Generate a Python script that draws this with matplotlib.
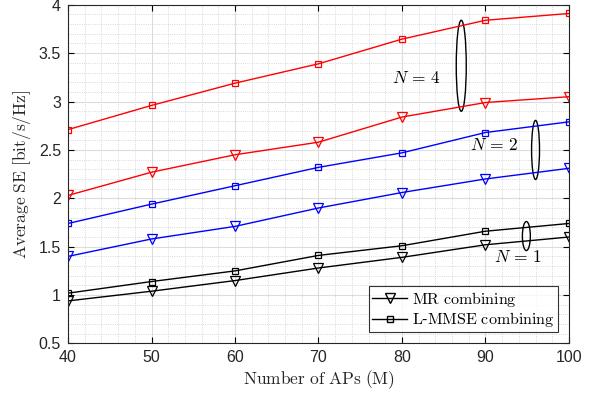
import numpy as np
import matplotlib
matplotlib.use("Agg")
import matplotlib.pyplot as plt
from matplotlib.patches import Ellipse
from matplotlib.ticker import MultipleLocator

plt.rcParams['mathtext.fontset'] = 'cm'
plt.rcParams['font.family'] = 'Liberation Sans'

# Data
aps = [40, 50, 60, 70, 80, 90, 100]
mr_n1 = [0.94, 1.04, 1.15, 1.28, 1.39, 1.52, 1.60]
lmmse_n1 = [1.02, 1.14, 1.25, 1.41, 1.51, 1.66, 1.74]
mr_n2 = [1.40, 1.58, 1.71, 1.90, 2.06, 2.20, 2.31]
lmmse_n2 = [1.74, 1.94, 2.13, 2.32, 2.47, 2.68, 2.79]
mr_n4 = [2.03, 2.27, 2.45, 2.58, 2.84, 2.99, 3.05]
lmmse_n4 = [2.71, 2.96, 3.19, 3.39, 3.645, 3.84, 3.91]

fig = plt.figure(figsize=(5.97, 3.98), dpi=100)
ax = fig.add_axes([0.114, 0.137, 0.839, 0.851])

# curves
for mr, lm, c in [(mr_n4, lmmse_n4, 'red'), (mr_n2, lmmse_n2, 'blue'), (mr_n1, lmmse_n1, 'black')]:
    ax.plot(aps, lm, color=c, lw=1, marker='s', ms=5, mfc='none', mew=0.9)
    ax.plot(aps, mr, color=c, lw=1, marker='v', ms=7.5, mfc='none', mew=0.9)

# legend proxies
ax.plot([], [], color='black', lw=1, marker='v', ms=7.5, mfc='none', label=r'$\mathrm{MR\ combining}$')
ax.plot([], [], color='black', lw=1, marker='s', ms=5, mfc='none', label=r'$\mathrm{L}$-$\mathrm{MMSE\ combining}$')
leg = ax.legend(loc='lower right', fontsize=11.5, frameon=True, fancybox=False,
                edgecolor='black', handlelength=2.2, borderpad=0.2, labelspacing=0.1,
                handletextpad=0.3, borderaxespad=0.7)
leg.get_frame().set_linewidth(0.8)

# ellipses and N labels
ax.add_patch(Ellipse((87.1, 3.37), 1.2, 0.94, fill=False, color='black', lw=1))
ax.add_patch(Ellipse((96.0, 2.50), 0.95, 0.61, fill=False, color='black', lw=1))
ax.add_patch(Ellipse((94.9, 1.61), 0.95, 0.30, fill=False, color='black', lw=1))
ax.text(81.7, 3.245, r'$N\,=\,4$', fontsize=12.5, ha='center', va='center')
ax.text(91.1, 2.55, r'$N\,=\,2$', fontsize=12.5, ha='center', va='center')
ax.text(93.9, 1.39, r'$N\,=\,1$', fontsize=12.5, ha='center', va='center')

ax.set_xlim(40, 100)
ax.set_ylim(0.5, 4)
ax.xaxis.set_major_locator(MultipleLocator(10))
ax.xaxis.set_minor_locator(MultipleLocator(2))
ax.yaxis.set_major_locator(MultipleLocator(0.5))
ax.yaxis.set_minor_locator(MultipleLocator(0.1))
ax.yaxis.set_major_formatter(matplotlib.ticker.FormatStrFormatter('%g'))
ax.grid(which='major', color='#dcdcdc', lw=0.8, ls='-')
ax.grid(which='minor', color='#cccccc', lw=0.6, ls=':')
ax.set_axisbelow(True)
ax.tick_params(which='both', direction='in', top=True, right=True, labelsize=11.5,
               labelcolor='#262626')
ax.tick_params(which='major', length=4, pad=5)
ax.tick_params(which='minor', length=0)
for s in ax.spines.values():
    s.set_linewidth(0.8)
    s.set_color('#262626')

ax.set_xlabel(r'$\mathrm{Number\ of\ APs\ (M)}$', fontsize=12.5, color='#262626', labelpad=2)
ax.set_ylabel(r'$\mathrm{Average\ SE\ [bit/s/Hz]}$', fontsize=12.5, color='#262626', labelpad=4)

fig.savefig('out.png', dpi=100)
